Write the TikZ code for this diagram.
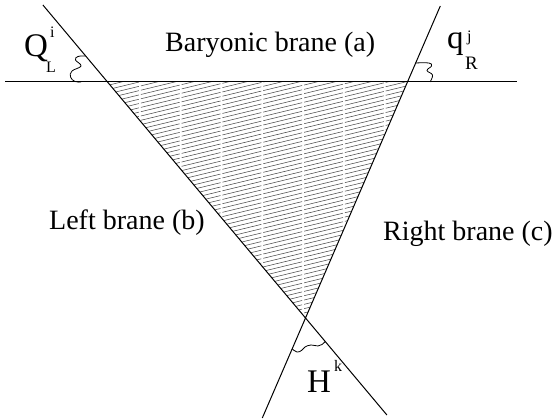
\documentclass[tikz,border=0pt]{standalone}
\usepackage{fontspec}
\setmainfont{Liberation Serif}
\begin{document}
\begin{tikzpicture}[x=1pt,y=-1pt,
  brane/.style={draw=black, line width=1pt},
  hatchline/.style={draw=black!70, line width=0.55pt, dash pattern=on 40pt off 2pt},
  lbl/.style={inner sep=0pt, anchor=base west, font=\fontsize{28}{30}\selectfont},
  bigsym/.style={inner sep=0pt, anchor=base west, font=\fontsize{33}{36}\selectfont},
  smallsym/.style={inner sep=0pt, anchor=base west, font=\fontsize{16}{18}\selectfont},
  squig/.style={draw=black, line width=0.8pt}]
\useasboundingbox (0,0) rectangle (554,419);
% intersection points and line ends
\coordinate (A) at (107.5,82);
\coordinate (B) at (407.5,82);
\coordinate (C) at (305.5,318);
\coordinate (L1) at (42.9,5);
\coordinate (L2) at (386.9,415);
\coordinate (R1) at (440.3,6);
\coordinate (R2) at (262.3,418);
\coordinate (H1) at (5,82);
\coordinate (H2) at (517,82);
% hatching
\begin{scope}
  \clip (A) -- (B) -- (C) -- cycle;
  \foreach \i in {0,...,80} {
    \draw[hatchline] (100,{70+\i*4.3}) -- ++(330,-80);
  }
\end{scope}
% branes
\draw[brane] (H1) -- (H2);
\draw[brane] (L1) -- (L2);
\draw[brane] (R1) -- (R2);
% squiggles (angles)
\draw[squig] plot[smooth, tension=0.7] coordinates {(85.7,56) (78,56.5) (75.5,60) (81,66) (72,71) (70.5,77) (75,81.5) (81,82)};
\draw[squig] plot[smooth, tension=0.7] coordinates {(415.7,63) (429,63) (431.5,66) (427,70.5) (432.5,75) (430,82)};
\draw[squig] plot[smooth, tension=0.7] coordinates {(292.3,349) (297,352) (301.5,350.5) (305,347) (311,345) (318,346) (322,344.5) (325.2,341.5)};
% labels
\node[lbl] (ba) at (165,52) {Baryonic brane (a)};
\node[lbl] (lb) at (49,230) {Left brane (b)};
\node[lbl] (rb) at (383,241) {Right brane (c)};
\node[bigsym] (Q) at (24,57) {Q};
\node[smallsym] (Qi) at (50,38) {i};
\node[smallsym] (QL) at (46,73) {L};
\node[bigsym] (q) at (447,49) {q};
\node[smallsym] (qj) at (467,42) {j};
\node[smallsym, font=\fontsize{19}{21}\selectfont] (qR) at (465,70) {R};
\node[bigsym] (H) at (307,392) {H};
\node[smallsym] (Hk) at (334,371) {k};
\end{tikzpicture}
\end{document}
